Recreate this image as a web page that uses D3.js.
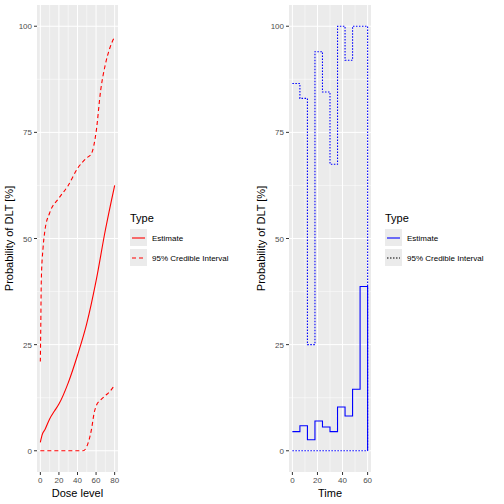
<!DOCTYPE html><html><head><script src="https://cdn.jsdelivr.net/npm/d3@7"></script>
<style>body{margin:0}text{font-family:"Liberation Sans",Arial,sans-serif}</style></head><body><svg width="504" height="504"></svg><script>
const doseX=[0,2,5,10,15,20,30,40,50,60,70,80];
const doseEst=[2,3.8,5,7.5,9.3,11,16,22.5,30,40,52,62.5];
const upX=[0,0.5,1,3,5,10,20,30,40,50,55,60,65,70,75,80];
const upY=[21,30,40,48,52,56,59.5,62.5,66.5,69,70,75,85,91,95,97.5];
const loX=[0,20,40,46,50,55,58,60,65,70,75,80];
const loY=[0,0,0,0,1,5,9,10.5,12,13,14,15.5];
const timeX=[0,6,12,18,24,30,36,42,48,54,60];
const tEst=[4.5,5.9,2.6,7,5.6,4.5,10.3,8.2,14.5,38.7,0];
const tUp=[86.5,83,25,94,84.5,67.5,100,92,100,100,0];
const tLo=[0,0,0,0,0,0,0,0,0,0,0];
const yTicks=[0,25,50,75,100];
const svg=d3.select("svg");
svg.append("rect").attr("width",504).attr("height",504).attr("fill","#fff");
function panel(x0,x1,dom,xt,xlabel,color,series,step,legX){
  const top=5,bot=472;
  const x=d3.scaleLinear().domain(dom).range([x0+(x1-x0)*0.045/1.09,x1-(x1-x0)*0.045/1.09]);
  const y=d3.scaleLinear().domain([-5,105]).range([bot,top]);
  const g=svg.append("g");
  g.append("rect").attr("x",x0).attr("y",top).attr("width",x1-x0).attr("height",bot-top).attr("fill","#ebebeb");
  const minor=[];for(let i=0;i<xt.length-1;i++)minor.push((xt[i]+xt[i+1])/2);
  [12.5,37.5,62.5,87.5].forEach(v=>g.append("line").attr("x1",x0).attr("x2",x1).attr("y1",y(v)).attr("y2",y(v)).attr("stroke","#fff").attr("stroke-width",0.5));
  minor.forEach(v=>g.append("line").attr("x1",x(v)).attr("x2",x(v)).attr("y1",top).attr("y2",bot).attr("stroke","#fff").attr("stroke-width",0.5));
  yTicks.forEach(v=>{g.append("line").attr("x1",x0).attr("x2",x1).attr("y1",y(v)).attr("y2",y(v)).attr("stroke","#fff").attr("stroke-width",1);
    g.append("line").attr("x1",x0-3).attr("x2",x0).attr("y1",y(v)).attr("y2",y(v)).attr("stroke","#333");
    g.append("text").attr("x",x0-5).attr("y",y(v)+3).attr("text-anchor","end").attr("font-size",8).attr("fill","#4d4d4d").text(v);});
  xt.forEach(v=>{g.append("line").attr("x1",x(v)).attr("x2",x(v)).attr("y1",top).attr("y2",bot).attr("stroke","#fff");
    g.append("line").attr("x1",x(v)).attr("x2",x(v)).attr("y1",bot).attr("y2",bot+3).attr("stroke","#333");
    g.append("text").attr("x",x(v)).attr("y",bot+11).attr("text-anchor","middle").attr("font-size",8).attr("fill","#4d4d4d").text(v);});
  g.append("text").attr("x",(x0+x1)/2).attr("y",497).attr("text-anchor","middle").attr("font-size",11).text(xlabel);
  g.append("text").attr("transform",`translate(${x0-24},${(top+bot)/2}) rotate(-90)`).attr("text-anchor","middle").attr("font-size",11).text("Probability of DLT [%]");
  series.forEach(s=>{
    const line=d3.line().x(d=>x(d[0])).y(d=>y(d[1])).curve(step?d3.curveStepAfter:d3.curveMonotoneX);
    g.append("path").attr("d",line(s.xs.map((v,i)=>[v,s.ys[i]]))).attr("fill","none").attr("stroke",color).attr("stroke-width",1.1).attr("stroke-dasharray",s.dash);
  });
  const ln=svg.append("g");
  ln.append("text").attr("x",legX).attr("y",222).attr("font-size",11).text("Type");
  [["Estimate",null,238],["95% Credible Interval",step?"1.5,1.5":"4,3",258]].forEach(([t,d,yy])=>{
    ln.append("rect").attr("x",legX).attr("y",yy-9).attr("width",17).attr("height",17).attr("fill","#ebebeb");
    ln.append("line").attr("x1",legX+2).attr("x2",legX+15).attr("y1",yy).attr("y2",yy).attr("stroke",step?"#000":color).attr("stroke-width",1.1).attr("stroke-dasharray",d);
    ln.append("text").attr("x",legX+22).attr("y",yy+3).attr("font-size",8).text(t);
  });
  if(step) ln.select("line").attr("stroke",color);
}
panel(37,118,[0,80],[0,20,40,60,80],"Dose level","red",[
 {xs:doseX,ys:doseEst,dash:null},{xs:upX,ys:upY,dash:"4,3"},{xs:loX,ys:loY,dash:"4,3"}],false,130);
panel(289,371,[0,60],[0,20,40,60],"Time","blue",[
 {xs:timeX,ys:tEst,dash:null},{xs:timeX,ys:tUp,dash:"1.5,1.5"},{xs:timeX,ys:tLo,dash:"1.5,1.5"}],true,385);
</script></body></html>
